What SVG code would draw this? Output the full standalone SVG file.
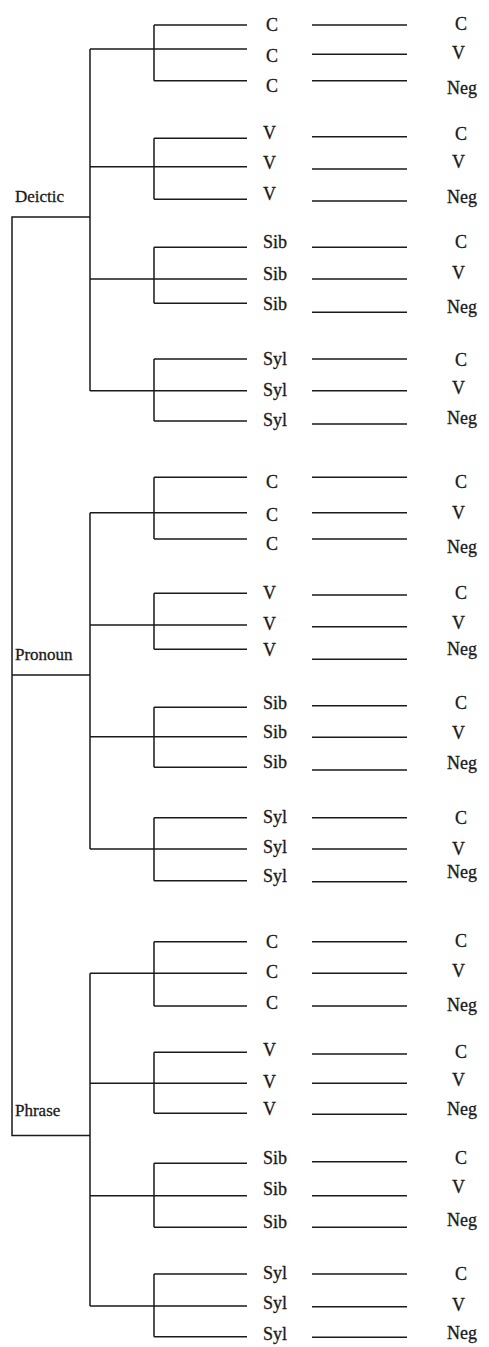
<svg xmlns="http://www.w3.org/2000/svg" width="489" height="1347" viewBox="0 0 489 1347">
<style>
.ln{stroke:#1a1a1a;stroke-width:1.5;fill:none}
.t{font-family:"Liberation Serif","Times New Roman",serif;font-size:18px;fill:#1a1a1a;stroke:#1a1a1a;stroke-width:0.3}
.r{font-family:"Liberation Serif","Times New Roman",serif;font-size:17px;fill:#1a1a1a;stroke:#1a1a1a;stroke-width:0.3}
</style>
<rect width="489" height="1347" fill="#ffffff"/>
<g id="connectors" class="ln">
<path d="M90,217 H12 V1135.5 H90 M12,675 H90"/>
<path d="M90,49 V391 M90,512.7 V849 M90,973.3 V1306"/>
<path d="M154,25 V80.7 M154,25 H247 M90,49 H247 M154,80.7 H247"/>
<path d="M154,138.3 V199.3 M154,138.3 H247 M90,166.7 H247 M154,199.3 H247"/>
<path d="M154,247.3 V303.3 M154,247.3 H247 M90,279 H247 M154,303.3 H247"/>
<path d="M154,359 V421 M154,359 H247 M90,390.7 H247 M154,421 H247"/>
<path d="M154,477.3 V539 M154,477.3 H247 M90,512.7 H247 M154,539 H247"/>
<path d="M154,593.3 V649.3 M154,593.3 H247 M90,625 H247 M154,649.3 H247"/>
<path d="M154,707.3 V767.3 M154,707.3 H247 M90,736.7 H247 M154,767.3 H247"/>
<path d="M154,817.7 V880.7 M154,817.7 H247 M90,849 H247 M154,880.7 H247"/>
<path d="M154,941.7 V1006 M154,941.7 H247 M90,973.3 H247 M154,1006 H247"/>
<path d="M154,1052.3 V1113.3 M154,1052.3 H247 M90,1083.3 H247 M154,1113.3 H247"/>
<path d="M154,1163.3 V1227.3 M154,1163.3 H247 M90,1195.7 H247 M154,1227.3 H247"/>
<path d="M154,1274 V1336.7 M154,1274 H247 M90,1306 H247 M154,1336.7 H247"/>
<path d="M312,25 H407 M312,54.3 H407 M312,80.7 H407 M312,136.7 H407 M312,169 H407 M312,201 H407 M312,247.3 H407 M312,279 H407 M312,312.3 H407 M312,359 H407 M312,390.7 H407 M312,424 H407"/>
<path d="M312,477.3 H407 M312,512.7 H407 M312,539 H407 M312,595 H407 M312,626.7 H407 M312,659.3 H407 M312,705.7 H407 M312,737.3 H407 M312,770 H407 M312,817.7 H407 M312,849 H407 M312,881.7 H407"/>
<path d="M312,941.7 H407 M312,973.3 H407 M312,1006 H407 M312,1054 H407 M312,1083.3 H407 M312,1114.3 H407 M312,1161.7 H407 M312,1195.7 H407 M312,1227.3 H407 M312,1274 H407 M312,1306.7 H407 M312,1337.3 H407"/>
</g>
<g id="root-deictic"><text class="r" x="15" y="202">Deictic</text></g>
<g id="root-pronoun"><text class="r" x="15" y="660">Pronoun</text></g>
<g id="root-phrase"><text class="r" x="15" y="1116">Phrase</text></g>

<g id="d-c1"><text class="t" x="266" y="31">C</text></g>
<g id="d-c2"><text class="t" x="266" y="62">C</text></g>
<g id="d-c3"><text class="t" x="266" y="92">C</text></g>
<g id="d-v1"><text class="t" x="263" y="139.3">V</text></g>
<g id="d-v2"><text class="t" x="263" y="168.7">V</text></g>
<g id="d-v3"><text class="t" x="263" y="200.3">V</text></g>
<g id="d-sib1"><text class="t" x="263" y="247.7">Sib</text></g>
<g id="d-sib2"><text class="t" x="263" y="280.3">Sib</text></g>
<g id="d-sib3"><text class="t" x="263" y="310.3">Sib</text></g>
<g id="d-syl1"><text class="t" x="263" y="365">Syl</text></g>
<g id="d-syl2"><text class="t" x="263" y="395.7">Syl</text></g>
<g id="d-syl3"><text class="t" x="263" y="426">Syl</text></g>

<g id="p-c1"><text class="t" x="266" y="488.3">C</text></g>
<g id="p-c2"><text class="t" x="266" y="521">C</text></g>
<g id="p-c3"><text class="t" x="266" y="550.3">C</text></g>
<g id="p-v1"><text class="t" x="263" y="598.7">V</text></g>
<g id="p-v2"><text class="t" x="263" y="630">V</text></g>
<g id="p-v3"><text class="t" x="263" y="656">V</text></g>
<g id="p-sib1"><text class="t" x="263" y="709.3">Sib</text></g>
<g id="p-sib2"><text class="t" x="263" y="738.3">Sib</text></g>
<g id="p-sib3"><text class="t" x="263" y="768.3">Sib</text></g>
<g id="p-syl1"><text class="t" x="263" y="823">Syl</text></g>
<g id="p-syl2"><text class="t" x="263" y="853.3">Syl</text></g>
<g id="p-syl3"><text class="t" x="263" y="882.3">Syl</text></g>

<g id="h-c1"><text class="t" x="266" y="947.7">C</text></g>
<g id="h-c2"><text class="t" x="266" y="977.7">C</text></g>
<g id="h-c3"><text class="t" x="266" y="1009.3">C</text></g>
<g id="h-v1"><text class="t" x="263" y="1056">V</text></g>
<g id="h-v2"><text class="t" x="263" y="1087.7">V</text></g>
<g id="h-v3"><text class="t" x="263" y="1115.3">V</text></g>
<g id="h-sib1"><text class="t" x="263" y="1164.3">Sib</text></g>
<g id="h-sib2"><text class="t" x="263" y="1195">Sib</text></g>
<g id="h-sib3"><text class="t" x="263" y="1227.7">Sib</text></g>
<g id="h-syl1"><text class="t" x="263" y="1279">Syl</text></g>
<g id="h-syl2"><text class="t" x="263" y="1309">Syl</text></g>
<g id="h-syl3"><text class="t" x="263" y="1340">Syl</text></g>

<g id="d-r1"><text class="t" x="455" y="30">C</text></g>
<g id="d-r2"><text class="t" x="452" y="59.3">V</text></g>
<g id="d-r3"><text class="t" x="447" y="94">Neg</text></g>
<g id="d-r4"><text class="t" x="455" y="140.3">C</text></g>
<g id="d-r5"><text class="t" x="452" y="167.7">V</text></g>
<g id="d-r6"><text class="t" x="447" y="202.7">Neg</text></g>
<g id="d-r7"><text class="t" x="455" y="247.7">C</text></g>
<g id="d-r8"><text class="t" x="452" y="279.3">V</text></g>
<g id="d-r9"><text class="t" x="447" y="312.7">Neg</text></g>
<g id="d-r10"><text class="t" x="455" y="366">C</text></g>
<g id="d-r11"><text class="t" x="452" y="394.3">V</text></g>
<g id="d-r12"><text class="t" x="447" y="424.3">Neg</text></g>

<g id="p-r1"><text class="t" x="455" y="488.3">C</text></g>
<g id="p-r2"><text class="t" x="452" y="518.7">V</text></g>
<g id="p-r3"><text class="t" x="447" y="552.7">Neg</text></g>
<g id="p-r4"><text class="t" x="455" y="598.7">C</text></g>
<g id="p-r5"><text class="t" x="452" y="629.3">V</text></g>
<g id="p-r6"><text class="t" x="447" y="655">Neg</text></g>
<g id="p-r7"><text class="t" x="455" y="709.3">C</text></g>
<g id="p-r8"><text class="t" x="452" y="739.3">V</text></g>
<g id="p-r9"><text class="t" x="447" y="769.3">Neg</text></g>
<g id="p-r10"><text class="t" x="455" y="823.7">C</text></g>
<g id="p-r11"><text class="t" x="452" y="855">V</text></g>
<g id="p-r12"><text class="t" x="447" y="877.7">Neg</text></g>

<g id="h-r1"><text class="t" x="455" y="946.7">C</text></g>
<g id="h-r2"><text class="t" x="452" y="976.7">V</text></g>
<g id="h-r3"><text class="t" x="447" y="1011">Neg</text></g>
<g id="h-r4"><text class="t" x="455" y="1057.7">C</text></g>
<g id="h-r5"><text class="t" x="452" y="1086">V</text></g>
<g id="h-r6"><text class="t" x="447" y="1115.3">Neg</text></g>
<g id="h-r7"><text class="t" x="455" y="1164.3">C</text></g>
<g id="h-r8"><text class="t" x="452" y="1193.3">V</text></g>
<g id="h-r9"><text class="t" x="447" y="1226">Neg</text></g>
<g id="h-r10"><text class="t" x="455" y="1280">C</text></g>
<g id="h-r11"><text class="t" x="452" y="1311">V</text></g>
<g id="h-r12"><text class="t" x="447" y="1339.3">Neg</text></g>
</svg>
